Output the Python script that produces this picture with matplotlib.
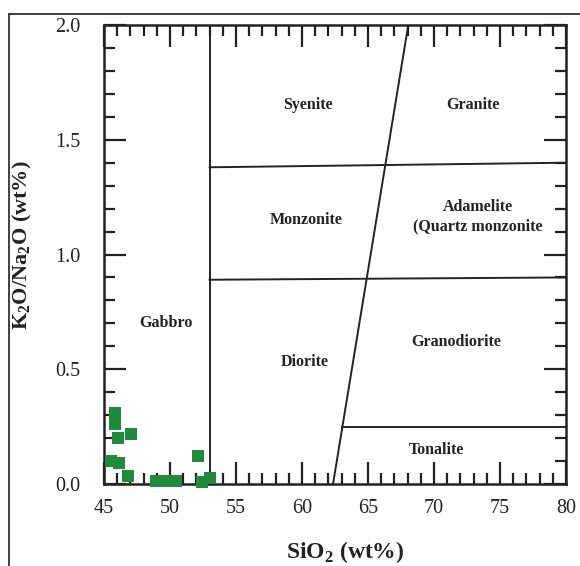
import numpy as np
import matplotlib.pyplot as plt
from matplotlib.lines import Line2D
from matplotlib.ticker import MultipleLocator

plt.rcParams['font.family'] = ['Liberation Serif', 'DejaVu Serif']
plt.rcParams['mathtext.fontset'] = 'custom'
plt.rcParams['mathtext.rm'] = 'Liberation Serif'
plt.rcParams['mathtext.bf'] = 'Liberation Serif:bold'

# sample points (SiO2 wt%, K2O/Na2O)
sio2 = [45.8, 45.85, 46.05, 47.05, 45.5, 46.15, 46.8, 48.95, 49.8, 50.45, 52.1, 52.4, 53.05]
k2o_na2o = [0.31, 0.26, 0.20, 0.22, 0.10, 0.09, 0.035, 0.015, 0.012, 0.012, 0.12, 0.01, 0.025]

# field boundaries
gabbro_x = [53, 53]
gabbro_y = [0, 2.0]
slope_x = [62.35, 68.05]
slope_y = [0, 2.0]
upper_x = [53, 80]
upper_y = [1.38, 1.40]
middle_x = [53, 80]
middle_y = [0.89, 0.90]
tonalite_x = [63.06, 80]
tonalite_y = [0.25, 0.25]

# field names and where they sit
field_names = ['Syenite', 'Granite', 'Monzonite', 'Adamelite\n(Quartz monzonite',
               'Gabbro', 'Diorite', 'Granodiorite', 'Tonalite']
field_x = [60.45, 72.95, 60.3, 73.3, 49.7, 60.2, 71.7, 70.2]
field_y = [1.65, 1.65, 1.15, 1.165, 0.70, 0.53, 0.62, 0.15]

fig = plt.figure(figsize=(5.8, 5.66), dpi=100)
ax = fig.add_axes([104/580, 1-484/566, 462/580, 459/566])

for xs, ys in [(gabbro_x, gabbro_y), (slope_x, slope_y), (upper_x, upper_y),
               (middle_x, middle_y), (tonalite_x, tonalite_y)]:
    ax.plot(xs, ys, color='#222222', lw=1.4)

for name, fx, fy in zip(field_names, field_x, field_y):
    ax.text(fx, fy, name, ha='center', va='center', fontsize=11.5,
            fontweight='bold', color='#222222', linespacing=1.3)

ax.scatter(sio2, k2o_na2o, marker='s', s=70, color='#1f8b3b', zorder=5,
           clip_on=False, linewidths=0)

ax.set_xlim(45, 80)
ax.set_ylim(0, 2.0)
ax.xaxis.set_major_locator(MultipleLocator(5))
ax.xaxis.set_minor_locator(MultipleLocator(1))
ax.yaxis.set_major_locator(MultipleLocator(0.5))
ax.yaxis.set_minor_locator(MultipleLocator(0.1))
ax.yaxis.set_major_formatter(plt.FormatStrFormatter('%.1f'))
ax.tick_params(which='both', direction='in', top=True, right=True, width=1.6,
               color='#222222', labelsize=14.5, labelcolor='#222222')
ax.tick_params(which='major', length=16)
ax.tick_params(which='minor', length=8)
ax.tick_params(axis='x', which='major', pad=11)
ax.tick_params(axis='y', which='major', pad=17)
for sp in ax.spines.values():
    sp.set_linewidth(1.8)
    sp.set_color('#222222')

ax.set_xlabel(r'SiO$_\mathbf{2}$ (wt%)', fontsize=17, fontweight='bold',
              color='#222222')
ax.set_ylabel(r'K$_\mathbf{2}$O/Na$_\mathbf{2}$O (wt%)', fontsize=16,
              fontweight='bold', color='#222222')
ax.xaxis.set_label_coords(0.522, -0.12)
ax.yaxis.set_label_coords(-0.152, 0.52)

# outer frame of the original figure
fig.add_artist(Line2D([9/580, 9/580], [0, 1-14/566], color='#333333', lw=1.3))
fig.add_artist(Line2D([9/580, 1], [1-14/566, 1-14/566], color='#333333', lw=1.3))

fig.savefig('out.png', dpi=100)
